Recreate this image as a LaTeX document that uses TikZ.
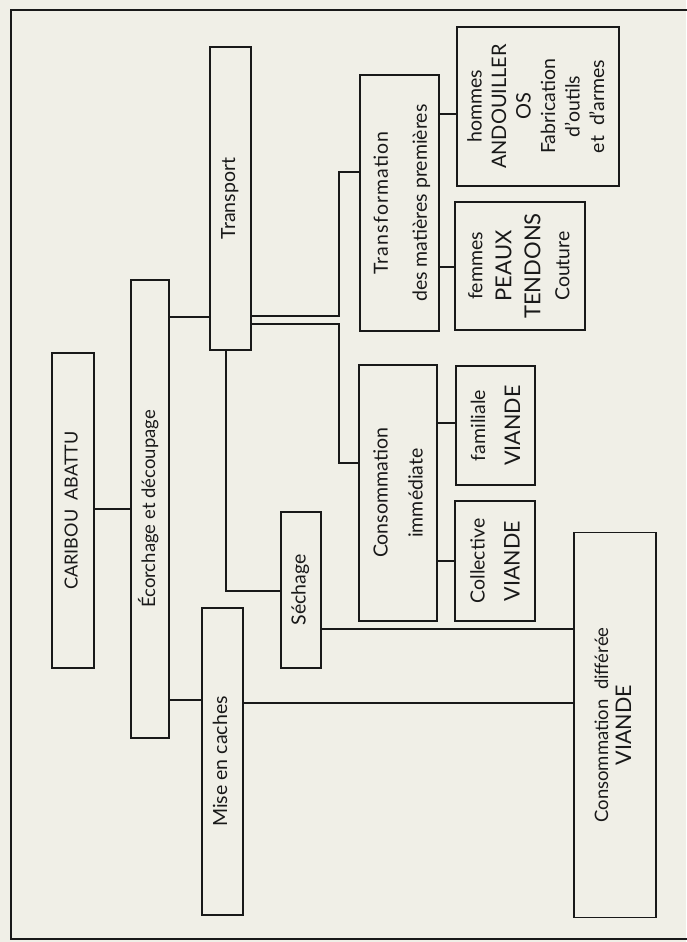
\documentclass[tikz,border=0pt]{standalone}
\usepackage{fontspec}
\setmainfont{Lato}
\usepackage{graphicx}
\definecolor{paper}{RGB}{240,239,231}
\definecolor{ink}{RGB}{25,25,25}
\newcommand{\rt}[3][23]{\rotatebox{90}{\fontsize{#2}{#1}\selectfont\begin{tabular}{@{}c@{}}#3\end{tabular}}}
\newcommand{\capsat}[2]{{\fontsize{#1}{#1}\selectfont #2}}
\begin{document}
\begin{tikzpicture}[x=1pt,y=-1pt,
  box/.style={draw=ink, line width=1.3pt, inner sep=0pt, outer sep=0pt, align=center, text=ink},
  link/.style={draw=ink, line width=1.3pt},
  frameline/.style={draw=ink, line width=1.6pt}]
\useasboundingbox (0,0) rectangle (686,942);
\fill[paper] (0,0) rectangle (686,942);
\draw[frameline] (700,10) -- (11,10) -- (11,939) -- (700,939);

\node[box, minimum width=42pt, minimum height=315pt] (carib) at (73,510.5) {\rt{18}{CARIBOU\ \ ABATTU}};
\node[box, minimum width=38pt, minimum height=458pt] (ecor) at (150,509) {\rt{18.5}{Écorchage et découpage}};
\node[box, minimum width=41pt, minimum height=303pt] (transp) at (230.5,198.5) {\rt{19.5}{Transport}};
\node[box, minimum width=41pt, minimum height=307pt] (mise) at (222.5,761.5) {\rt{19.5}{Mise en caches}};
\node[box, minimum width=40pt, minimum height=156pt] (sech) at (301,590) {\rt{19.5}{Séchage}};
\node[box, minimum width=79pt, minimum height=256pt] (transf) at (399.5,203) {\rt[39]{19.5}{\addfontfeatures{LetterSpace=6}Transformation\\des\ matières\ premières}};
\node[box, minimum width=78pt, minimum height=256pt] (consimm) at (398,493) {\rt[35]{19.5}{Consommation\\immédiate}};
\node[box, minimum width=162pt, minimum height=159pt] (hommes) at (538,106.5) {\rt[24.5]{19.5}{hommes\\\capsat{20}{ANDOUILLER}\\\capsat{20}{OS}\\Fabrication\\d'outils\\et\ \ d'armes}};
\node[box, minimum width=130pt, minimum height=128pt] (femmes) at (520,266) {\rt[29]{19.5}{femmes\\\capsat{22}{PEAUX}\\\capsat{22}{TENDONS}\\Couture}};
\node[box, minimum width=79pt, minimum height=119pt] (famil) at (495.5,425.5) {\rt[35]{19.5}{familiale\\\capsat{21.5}{VIANDE}}};
\node[box, minimum width=80pt, minimum height=120pt] (collect) at (495,561) {\rt[35]{19.5}{Collective\\\capsat{21.5}{VIANDE}}};
\node[box, minimum width=82pt, minimum height=385pt] (consdiff) at (615,725) {\rt[23]{18.5}{Consommation\ \ différée\\\capsat{21.5}{VIANDE}}};

\draw[link] (carib.east |- 0,509) -- (ecor.west |- 0,509);
\draw[link] (ecor.east |- 0,317) -- (transp.west |- 0,317);
\draw[link] (ecor.east |- 0,700) -- (mise.west |- 0,700);
\draw[link] (transp.east |- 0,316) -| (339,172) -- (transf.west |- 0,172);
\draw[link] (transp.east |- 0,324) -| (339,463) -- (consimm.west |- 0,463);
\draw[link] (transp.south -| 226,0) |- (sech.west |- 0,591);
\draw[link] (sech.east |- 0,629) -- (consdiff.west |- 0,629);
\draw[link] (mise.east |- 0,703) -- (consdiff.west |- 0,703);
\draw[link] (transf.east |- 0,114) -- (hommes.west |- 0,114);
\draw[link] (transf.east |- 0,267) -- (femmes.west |- 0,267);
\draw[link] (consimm.east |- 0,423) -- (famil.west |- 0,423);
\draw[link] (consimm.east |- 0,561) -- (collect.west |- 0,561);
\end{tikzpicture}
\end{document}
